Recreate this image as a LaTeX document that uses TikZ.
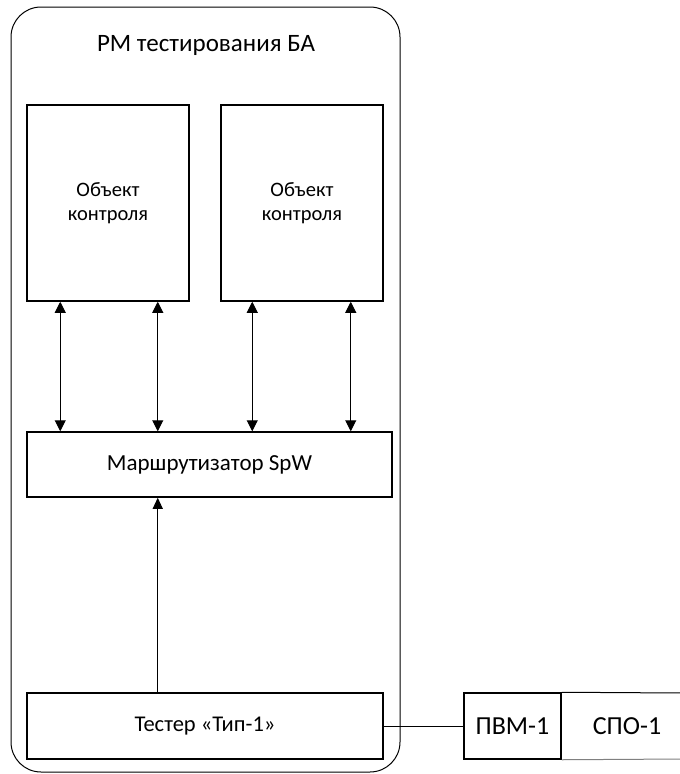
\documentclass[tikz,border=0pt]{standalone}
\usepackage{fontspec}
\setmainfont{Carlito}
\usetikzlibrary{arrows.meta}

\tikzset{every picture/.style={line width=1pt}}
\tikzset{
  blok/.style={draw, line width=1.5pt, inner sep=0pt, align=center, font=\fontsize{20.5}{24}\selectfont},
  krupno/.style={font=\fontsize{26}{30}\selectfont},
  dvastr/.style={{Triangle[length=11pt,width=11pt]}-{Triangle[length=11pt,width=11pt]}},
  odnastr/.style={-{Triangle[length=11pt,width=10pt]}}
}

\begin{document}
\begin{tikzpicture}[x=1pt,y=1pt,yscale=-1,xscale=1]
    \useasboundingbox (0,0) rectangle (680,774);
    %Rounded Rect [id:rm]
    \draw[rounded corners=30] (11,7) rectangle (400,772);
    % Text Node
    \node (zagl) at (206,45) [font=\fontsize{25}{30}\selectfont] {РМ тестирования БА};
    %Shape: Rectangle [id:obj1]
    \node (obj1) at (108,203) [blok, minimum width=162, minimum height=196] {Объект\\контроля};
    %Shape: Rectangle [id:obj2]
    \node (obj2) at (302,203) [blok, minimum width=162, minimum height=196] {Объект\\контроля};
    %Shape: Rectangle [id:router]
    \node (router) at (209.5,464.5) [blok, minimum width=365, minimum height=65, font=\fontsize{23}{27}\selectfont] {Маршрутизатор SpW};
    %Shape: Rectangle [id:tester]
    \node (tester) at (205,726) [blok, minimum width=356, minimum height=66, font=\fontsize{22.5}{27}\selectfont] {Тестер «Тип-1»};
    %Shape: Rectangle [id:pvm]
    \node (pvm) at (512.5,726) [blok, krupno, minimum width=97, minimum height=66] {ПВМ-1};
    % Text Node
    \node (spo) at (627,726) [krupno] {СПО-1};
    \coordinate (spoNE) at (682,693);
    \coordinate (spoSE) at (682,759);
    %Straight Lines [id:spo]
    \draw (pvm.north east) -- (spoNE);
    \draw[gray] (pvm.south east) -- (spoSE);
    %Straight Lines [id:arrows]
    \draw[dvastr] ([xshift=34]obj1.south west) -- ([xshift=34]obj1.south west |- router.north);
    \draw[dvastr] ([xshift=-32]obj1.south east) -- ([xshift=-32]obj1.south east |- router.north);
    \draw[dvastr] ([xshift=32]obj2.south west) -- ([xshift=32]obj2.south west |- router.north);
    \draw[dvastr] ([xshift=-33]obj2.south east) -- ([xshift=-33]obj2.south east |- router.north);
    \draw[odnastr] (tester.north -| obj1.south east) ++(-32,0) coordinate (tv) -- (tv |- router.south);
    %Straight Lines [id:link]
    \draw (tester.east) -- (pvm.west);
\end{tikzpicture}
\end{document}
